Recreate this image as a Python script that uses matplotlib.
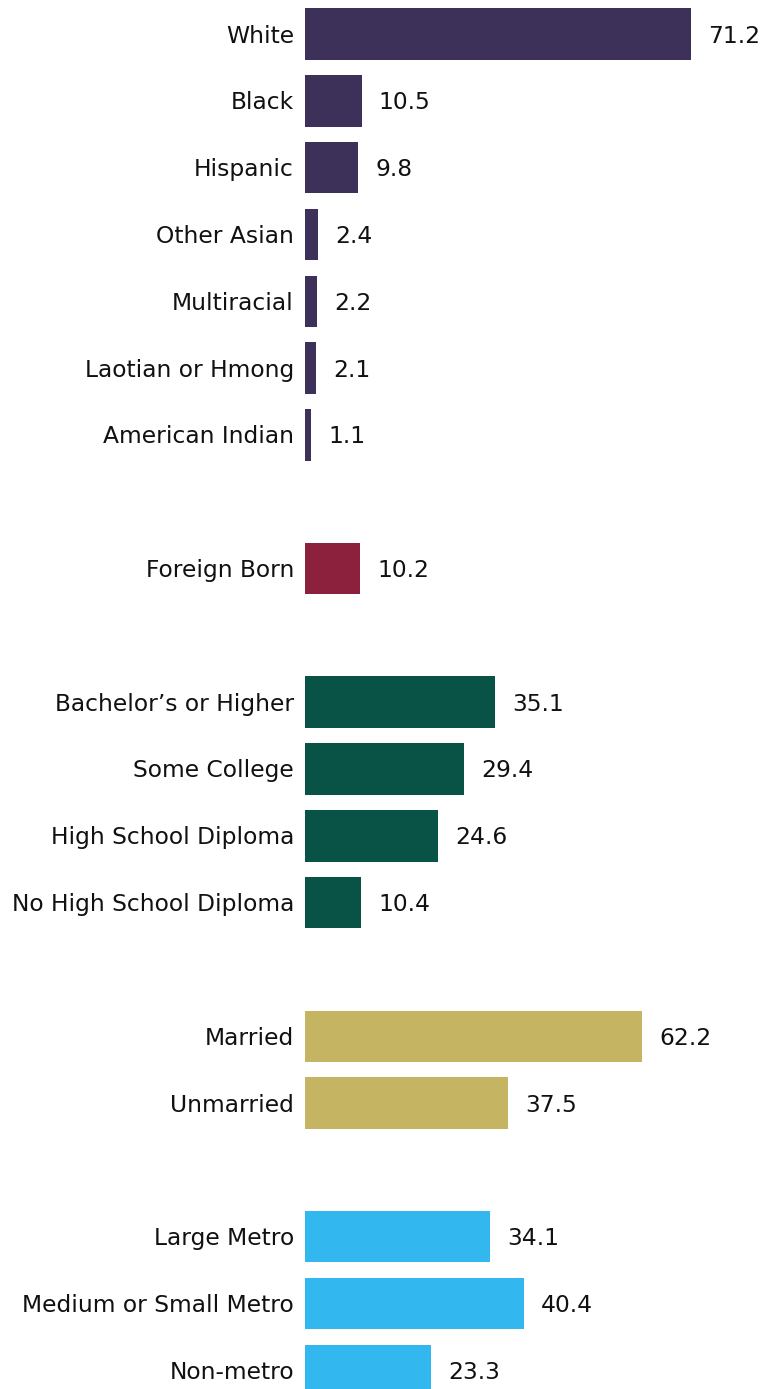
import matplotlib.pyplot as plt

race_labels = ['White', 'Black', 'Hispanic', 'Other Asian', 'Multiracial',
               'Laotian or Hmong', 'American Indian']
race_values = [71.2, 10.5, 9.8, 2.4, 2.2, 2.1, 1.1]

born_labels = ['Foreign Born']
born_values = [10.2]

edu_labels = ['Bachelor\u2019s or Higher', 'Some College', 'High School Diploma',
              'No High School Diploma']
edu_values = [35.1, 29.4, 24.6, 10.4]

marr_labels = ['Married', 'Unmarried']
marr_values = [62.2, 37.5]

metro_labels = ['Large Metro', 'Medium or Small Metro', 'Non-metro']
metro_values = [34.1, 40.4, 23.3]

groups = [
    (race_labels, race_values, '#3E3159'),
    (born_labels, born_values, '#8B213C'),
    (edu_labels, edu_values, '#085246'),
    (marr_labels, marr_values, '#C5B562'),
    (metro_labels, metro_values, '#32B8EE'),
]

fig = plt.figure(figsize=(7.74, 13.89), dpi=100)
ax = fig.add_axes([305 / 774, 0, 1 - 305 / 774, 1])

px = 5.42  # pixels per data unit
fs = 16.8
pos = 0
for labels, values, color in groups:
    for lab, val in zip(labels, values):
        ax.barh(pos, val, height=0.77, color=color)
        ax.text(-11 / px, pos + 0.03, lab, ha='right', va='center',
                fontsize=fs, color='#111111')
        ax.text(val + 17 / px, pos + 0.03, f'{val:.1f}', ha='left', va='center',
                fontsize=fs, color='#111111')
        pos += 1
    pos += 1

ax.set_xlim(0, 469 / px)
ax.set_ylim(20.28, -0.51)
ax.axis('off')

fig.savefig('out.png', dpi=100)
